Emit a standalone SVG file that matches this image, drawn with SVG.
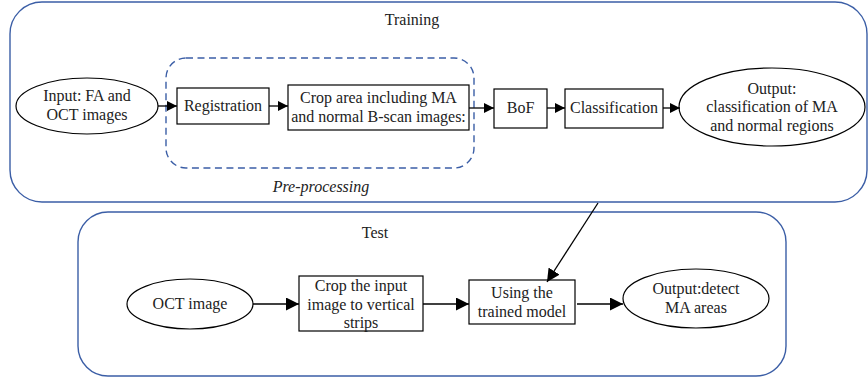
<svg xmlns="http://www.w3.org/2000/svg" width="868" height="379" viewBox="0 0 868 379">
  <style>
    .frame { fill: none; stroke: #3b5ea6; stroke-width: 1.4; }
    .dash { fill: none; stroke: #3b5ea6; stroke-width: 1.4; stroke-dasharray: 7 4.5; }
    .node { fill: #ffffff; stroke: #000000; stroke-width: 1.2; }
    .edge { fill: none; stroke: #000000; stroke-width: 1.3; }
    .t { font-family: "Liberation Serif", serif; font-size: 16px; fill: #222222; text-anchor: middle; }
    .it { font-family: "Liberation Serif", serif; font-size: 16px; font-style: italic; fill: #222222; text-anchor: middle; }
  </style>
  <defs>
    <marker id="arrow" viewBox="0 0 10 10" refX="10" refY="5" markerWidth="10" markerHeight="10" markerUnits="userSpaceOnUse" orient="auto">
      <path d="M0,0 L10,5 L0,10 Z" fill="#000000"/>
    </marker>
    <marker id="arrowBig" viewBox="0 0 12 12" refX="12" refY="6" markerWidth="13" markerHeight="13" markerUnits="userSpaceOnUse" orient="auto">
      <path d="M0,0 L12,6 L0,12 Z" fill="#000000"/>
    </marker>
  </defs>

  <!-- Clusters -->
  <g id="training">
    <rect class="frame" x="10" y="2" width="857" height="200" rx="32" ry="32"/>
    <text class="t" x="412" y="25">Training</text>
  </g>
  <g id="preprocessing">
    <rect class="dash" x="166" y="58" width="308" height="110" rx="20" ry="20"/>
    <text class="it" x="321" y="192">Pre-processing</text>
  </g>
  <g id="test">
    <rect class="frame" x="78" y="212" width="708" height="164" rx="30" ry="30"/>
    <text class="t" x="375" y="238">Test</text>
  </g>

  <!-- Training nodes -->
  <g id="input">
    <ellipse class="node" cx="87" cy="106" rx="71" ry="28"/>
    <text class="t" x="87" y="101">Input: FA and</text>
    <text class="t" x="87" y="119.5">OCT images</text>
  </g>
  <g id="registration">
    <rect class="node" x="177" y="88" width="92" height="36"/>
    <text class="t" x="223" y="111">Registration</text>
  </g>
  <g id="crop-area">
    <rect class="node" x="288" y="85" width="181" height="45"/>
    <text class="t" x="378.5" y="103">Crop area including MA</text>
    <text class="t" x="378.5" y="122">and normal B-scan images:</text>
  </g>
  <g id="bof">
    <rect class="node" x="494" y="89" width="53" height="39"/>
    <text class="t" x="520.5" y="113">BoF</text>
  </g>
  <g id="classification">
    <rect class="node" x="565" y="89" width="98" height="39"/>
    <text class="t" x="614" y="113">Classification</text>
  </g>
  <g id="output-training">
    <ellipse class="node" cx="772" cy="107" rx="93" ry="39"/>
    <text class="t" x="772" y="93.5">Output:</text>
    <text class="t" x="772" y="112">classification of MA</text>
    <text class="t" x="772" y="130.5">and normal regions</text>
  </g>

  <!-- Test nodes -->
  <g id="oct-image">
    <ellipse class="node" cx="190" cy="304" rx="63" ry="25"/>
    <text class="t" x="190" y="309">OCT image</text>
  </g>
  <g id="crop-strips">
    <rect class="node" x="299" y="276" width="124" height="55"/>
    <text class="t" x="361" y="291">Crop the input</text>
    <text class="t" x="361" y="309.5">image to vertical</text>
    <text class="t" x="361" y="328">strips</text>
  </g>
  <g id="trained-model">
    <rect class="node" x="469" y="280" width="106" height="44"/>
    <text class="t" x="522" y="298">Using the</text>
    <text class="t" x="522" y="317">trained model</text>
  </g>
  <g id="output-test">
    <ellipse class="node" cx="696" cy="298.5" rx="73" ry="29.5"/>
    <text class="t" x="696" y="294">Output:detect</text>
    <text class="t" x="696" y="313">MA areas</text>
  </g>

  <!-- Connectors -->
  <g id="edges">
    <line class="edge" x1="158" y1="106" x2="177" y2="106" marker-end="url(#arrow)"/>
    <line class="edge" x1="269" y1="106" x2="288" y2="106" marker-end="url(#arrow)"/>
    <line class="edge" x1="469" y1="108" x2="494" y2="108" marker-end="url(#arrow)"/>
    <line class="edge" x1="547" y1="108" x2="565" y2="108" marker-end="url(#arrow)"/>
    <line class="edge" x1="663" y1="108" x2="680" y2="108" marker-end="url(#arrow)"/>
    <line class="edge" x1="253" y1="304" x2="299" y2="304" marker-end="url(#arrowBig)"/>
    <line class="edge" x1="423" y1="304" x2="469" y2="304" marker-end="url(#arrowBig)"/>
    <line class="edge" x1="577" y1="304" x2="623" y2="304" marker-end="url(#arrowBig)"/>
    <line class="edge" x1="598" y1="203" x2="547" y2="282" marker-end="url(#arrowBig)"/>
  </g>
</svg>
